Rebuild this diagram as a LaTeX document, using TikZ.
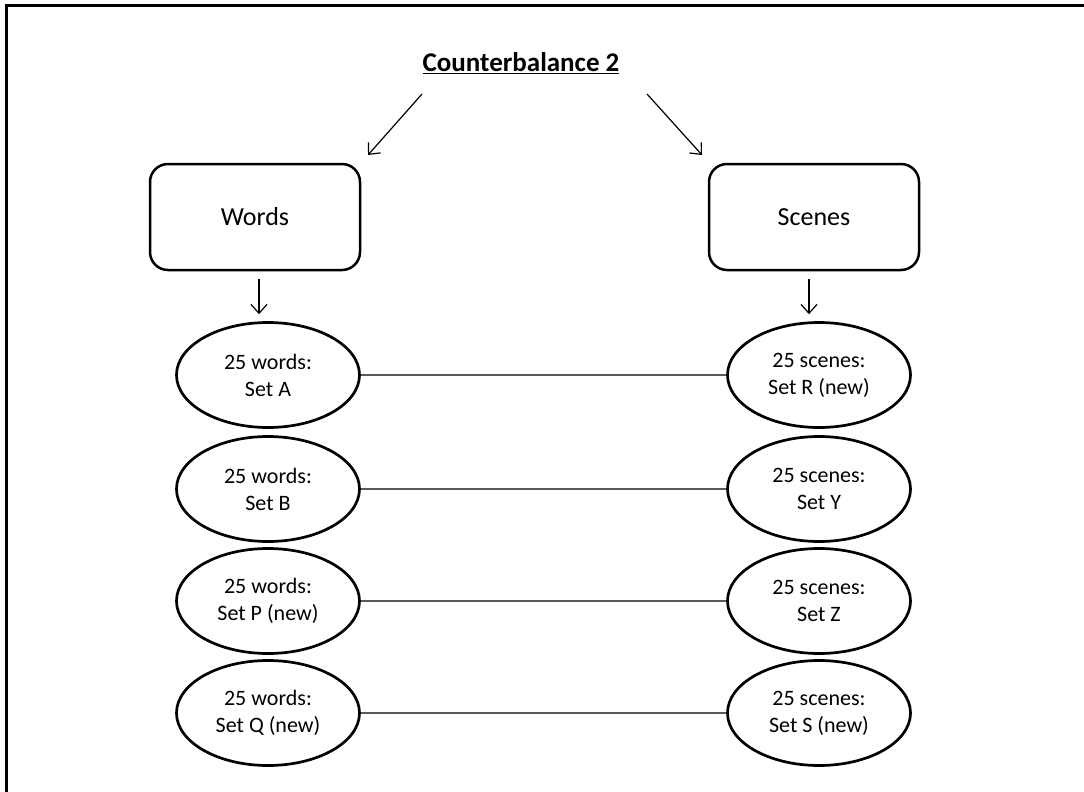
\documentclass[tikz,border=0pt]{standalone}
\usepackage{fontspec}
\setmainfont{Carlito}
\usetikzlibrary{arrows.meta,shapes.geometric}

\begin{document}
\begin{tikzpicture}[x=1pt,y=-1pt,>={Straight Barb[length=9pt,width=16pt]},
  category/.style={draw,line width=2.5pt,rounded corners=18pt,minimum width=210pt,
    minimum height=106pt,font=\fontsize{26}{30}\selectfont},
  stimset/.style={draw,ellipse,line width=2.7pt,minimum width=183pt,minimum height=105pt,
    inner sep=0pt,align=center,font=\fontsize{22}{27}\selectfont},
  pairing/.style={draw=gray!70!black,line width=1.2pt},
  flow/.style={->,line width=1.2pt}]
  \useasboundingbox (0,0) rectangle (1084,792);
  % frame
  \draw[line width=3pt] (6,792) -- (6,6) -- (1084,6);
  % title and the two stimulus types
  \node[font=\fontsize{27}{32}\selectfont\bfseries] (title) at (521,63) {\underline{Counterbalance 2}};
  \node[category] (words) at (255,217) {Words};
  \node[category] (scenes) at (814,217) {Scenes};
  \coordinate (tl) at (422,94);
  \coordinate (tr) at (647,94);
  \coordinate (wl) at (368,155);
  \coordinate (sr) at (702,155);
  \draw[flow] (tl) -- (wl);
  \draw[flow] (tr) -- (sr);
  % sets
  \foreach \row/\y/\wset/\sset in {1/375/{Set A}/{Set R (new)},2/489/{Set B}/{Set Y},
      3/601/{Set P (new)}/{Set Z},4/713/{Set Q (new)}/{Set S (new)}}{
    \node[stimset] (w\row) at (268,\y) {25 words:\\\wset};
    \node[stimset] (s\row) at (819,\y) {25 scenes:\\\sset};
    \draw[pairing] (w\row) -- (s\row);
  }
  \draw[flow] ([xshift=4pt,yshift=-8pt]words.south) -- ++(0,35);
  \draw[flow] ([xshift=-5pt,yshift=-8pt]scenes.south) -- ++(0,35);
\end{tikzpicture}
\end{document}
